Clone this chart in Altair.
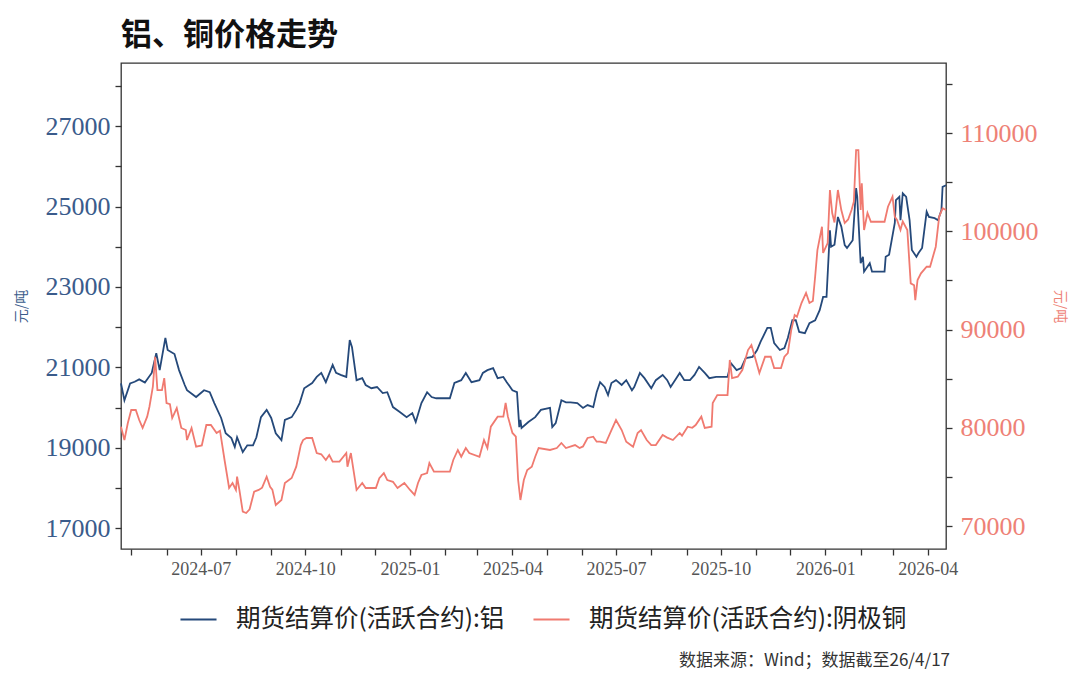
import altair as alt
import pandas as pd

AL_NAME = "期货结算价(活跃合约):铝"
CU_NAME = "期货结算价(活跃合约):阴极铜"
TITLE = "铝、铜价格走势"
FOOTER = "数据来源：Wind；数据截至26/4/17"
UNIT = "元/吨"

al_dates = ["2024-04-22","2024-04-25","2024-04-30","2024-05-04","2024-05-08","2024-05-13","2024-05-19","2024-05-23","2024-05-26","2024-05-31",
            "2024-06-02","2024-06-08","2024-06-12","2024-06-17","2024-06-19","2024-06-27","2024-07-04","2024-07-09","2024-07-13","2024-07-19",
            "2024-07-23","2024-07-28","2024-07-31","2024-08-02","2024-08-07","2024-08-11","2024-08-16","2024-08-19","2024-08-23","2024-08-28",
            "2024-09-01","2024-09-05","2024-09-10","2024-09-13","2024-09-19","2024-09-23","2024-09-26","2024-09-30","2024-10-07","2024-10-11",
            "2024-10-15","2024-10-19","2024-10-25","2024-10-28","2024-11-01","2024-11-06","2024-11-09","2024-11-11","2024-11-15","2024-11-20",
            "2024-11-23","2024-11-28","2024-12-03","2024-12-08","2024-12-12","2024-12-17","2024-12-23","2024-12-29","2025-01-03","2025-01-06",
            "2025-01-11","2025-01-16","2025-01-20","2025-01-24","2025-02-05","2025-02-09","2025-02-15","2025-02-19","2025-02-24","2025-03-03",
            "2025-03-06","2025-03-10","2025-03-15","2025-03-19","2025-03-24","2025-03-27","2025-04-01","2025-04-05","2025-04-07","2025-04-08",
            "2025-04-09","2025-04-15","2025-04-21","2025-04-26","2025-05-04","2025-05-06","2025-05-09","2025-05-14","2025-05-18","2025-05-22",
            "2025-05-28","2025-06-02","2025-06-06","2025-06-11","2025-06-14","2025-06-17","2025-06-21","2025-06-24","2025-06-27","2025-07-01",
            "2025-07-06","2025-07-10","2025-07-15","2025-07-17","2025-07-22","2025-07-26","2025-08-01","2025-08-05","2025-08-11","2025-08-15",
            "2025-08-18","2025-08-23","2025-08-26","2025-08-30","2025-09-04","2025-09-08","2025-09-12","2025-09-17","2025-09-21","2025-09-27",
            "2025-10-07","2025-10-10","2025-10-15","2025-10-19","2025-10-23","2025-10-29","2025-11-02","2025-11-05","2025-11-11","2025-11-14",
            "2025-11-17","2025-11-22","2025-11-26","2025-11-29","2025-12-03","2025-12-06","2025-12-09","2025-12-14","2025-12-18","2025-12-23",
            "2025-12-27","2025-12-30","2026-01-02","2026-01-05","2026-01-06","2026-01-09","2026-01-12","2026-01-15","2026-01-18","2026-01-20",
            "2026-01-25","2026-01-28","2026-01-29","2026-02-01","2026-02-03","2026-02-04","2026-02-09","2026-02-11","2026-02-22","2026-02-23",
            "2026-02-26","2026-03-03","2026-03-04","2026-03-07","2026-03-08","2026-03-10","2026-03-13","2026-03-16","2026-03-18","2026-03-22",
            "2026-03-24","2026-03-27","2026-03-31","2026-04-02","2026-04-07","2026-04-10","2026-04-13","2026-04-14","2026-04-17"]
al_values = [20600,20180,20600,20640,20700,20620,20860,21350,20930,21730,
             21430,21330,20930,20560,20430,20260,20430,20380,20110,19740,
             19360,19240,19020,19260,18890,19060,19060,19260,19760,19940,
             19740,19360,19190,19690,19760,19940,20110,20480,20610,20760,
             20860,20630,21060,20860,20810,20760,21680,21500,20680,20730,
             20560,20480,20510,20360,20380,20010,19890,19760,19860,19640,
             20110,20380,20260,20230,20230,20610,20680,20860,20630,20680,
             20860,20930,20980,20730,20760,20630,20430,20380,19510,19690,
             19490,19640,19760,19940,19990,19510,19610,20180,20130,20130,
             20110,19990,20060,20010,20380,20630,20510,20310,20610,20680,
             20560,20680,20430,20510,20860,20730,20480,20680,20810,20680,
             20510,20730,20860,20680,20680,20810,21010,20860,20730,20760,
             20760,21100,20930,20980,21230,21260,21430,21630,21980,21980,
             21600,21430,21480,21730,22170,22170,21880,21850,22100,22170,
             22420,22750,22750,24410,24000,24050,24740,24500,24040,23970,
             24160,25460,25240,23590,23750,23380,23590,23380,23380,23750,
             23800,24590,25160,25240,24660,25330,25240,24660,23920,23750,
             23850,23970,24870,24740,24710,24660,24910,25490,25530]

cu_dates = ["2024-04-22","2024-04-25","2024-04-28","2024-05-01","2024-05-05","2024-05-08","2024-05-11","2024-05-15","2024-05-17","2024-05-20",
            "2024-05-22","2024-05-24","2024-05-28","2024-05-30","2024-06-01","2024-06-04","2024-06-06","2024-06-10","2024-06-14","2024-06-18",
            "2024-06-19","2024-06-23","2024-06-27","2024-07-02","2024-07-06","2024-07-10","2024-07-15","2024-07-18","2024-07-22","2024-07-26",
            "2024-07-29","2024-08-01","2024-08-02","2024-08-04","2024-08-07","2024-08-10","2024-08-13","2024-08-17","2024-08-21","2024-08-24",
            "2024-08-28","2024-08-31","2024-09-02","2024-09-05","2024-09-10","2024-09-13","2024-09-19","2024-09-23","2024-09-27","2024-09-29",
            "2024-10-02","2024-10-07","2024-10-11","2024-10-15","2024-10-19","2024-10-22","2024-10-25","2024-10-31","2024-11-06","2024-11-07",
            "2024-11-10","2024-11-15","2024-11-20","2024-11-23","2024-12-02","2024-12-05","2024-12-09","2024-12-12","2024-12-17","2024-12-21",
            "2024-12-27","2025-01-01","2025-01-05","2025-01-08","2025-01-11","2025-01-16","2025-01-18","2025-01-22","2025-02-05","2025-02-08",
            "2025-02-12","2025-02-15","2025-02-19","2025-02-22","2025-03-03","2025-03-07","2025-03-10","2025-03-13","2025-03-19","2025-03-24",
            "2025-03-26","2025-03-28","2025-04-01","2025-04-04","2025-04-06","2025-04-08","2025-04-11","2025-04-14","2025-04-18","2025-04-21",
            "2025-04-24","2025-05-04","2025-05-10","2025-05-14","2025-05-18","2025-05-26","2025-05-30","2025-06-02","2025-06-06","2025-06-11",
            "2025-06-14","2025-06-17","2025-06-22","2025-06-27","2025-07-01","2025-07-06","2025-07-10","2025-07-16","2025-07-20","2025-07-23",
            "2025-07-28","2025-08-01","2025-08-05","2025-08-11","2025-08-15","2025-08-20","2025-08-26","2025-08-28","2025-09-02","2025-09-06",
            "2025-09-09","2025-09-14","2025-09-17","2025-09-23","2025-09-24","2025-09-28","2025-10-07","2025-10-09","2025-10-11","2025-10-16",
            "2025-10-20","2025-10-25","2025-10-28","2025-10-31","2025-11-04","2025-11-09","2025-11-14","2025-11-17","2025-11-23","2025-11-26",
            "2025-11-29","2025-12-02","2025-12-05","2025-12-07","2025-12-11","2025-12-15","2025-12-18","2025-12-21","2025-12-23","2025-12-25",
            "2025-12-29","2025-12-30","2026-01-03","2026-01-05","2026-01-07","2026-01-09","2026-01-12","2026-01-15","2026-01-18","2026-01-21",
            "2026-01-24","2026-01-26","2026-01-28","2026-01-30","2026-02-01","2026-02-02","2026-02-04","2026-02-07","2026-02-10","2026-02-22",
            "2026-02-25","2026-03-01","2026-03-03","2026-03-05","2026-03-08","2026-03-10","2026-03-14","2026-03-17","2026-03-20","2026-03-21",
            "2026-03-23","2026-03-26","2026-03-31","2026-04-03","2026-04-08","2026-04-11","2026-04-14","2026-04-17"]
cu_values = [80110,78750,80480,81810,81810,80790,79980,81130,82140,84180,
             87230,83840,83840,85060,82520,82400,80990,82010,79980,79770,
             78750,79980,78070,78200,80280,80280,79470,79700,76720,73870,
             74380,73670,75020,73700,71460,71320,71700,73490,73670,73900,
             75020,74000,73700,72140,72650,74380,74890,76040,78240,78750,
             78960,78960,77430,77300,76720,77230,76550,76550,77430,76040,
             77430,73670,74380,73870,73870,74860,75390,74680,74500,73870,
             74380,73670,73160,74380,75190,75390,76410,75530,75530,76720,
             77740,77050,77940,77430,77050,78750,77940,80110,81130,81130,
             82520,81130,79470,79090,74680,72650,74680,75700,76040,77050,
             77940,77740,77940,78450,77940,78240,77940,78100,78960,79090,
             78580,78580,78450,79770,80790,79770,78580,78070,79470,79770,
             78750,78240,78240,79260,79000,78750,79470,79200,80110,80000,
             80280,81130,79980,80110,82520,83330,83330,86900,85060,85200,
             85880,87910,88420,87230,85570,87230,87230,86080,86080,87230,
             87610,89950,91480,91300,92700,93720,92700,92900,95370,98090,
             100460,97790,98800,104200,101860,100900,104200,102160,100840,101200,
             102160,103010,108270,108270,102160,104880,100130,101860,100970,100970,
             102500,103520,101480,101150,100130,101000,100130,94700,94500,93000,
             95040,95720,96390,96390,98430,101480,102340,102160]

month_ticks = ["2024-05","2024-06","2024-07","2024-08","2024-09","2024-10","2024-11","2024-12",
               "2025-01","2025-02","2025-03","2025-04","2025-05","2025-06","2025-07","2025-08",
               "2025-09","2025-10","2025-11","2025-12","2026-01","2026-02","2026-03","2026-04"]
left_ticks = [17000,18000,19000,20000,21000,22000,23000,24000,25000,26000,27000,28000]
right_ticks = [70000,75000,80000,85000,90000,95000,100000,105000,110000,115000]

AL_COLOR = "#25497a"
CU_COLOR = "#f07a70"
AL_LABEL = "#3a5b8b"
CU_LABEL = "#ee8176"

df = pd.concat([
    pd.DataFrame({"date": al_dates, "value": al_values, "series": AL_NAME}),
    pd.DataFrame({"date": cu_dates, "value": cu_values, "series": CU_NAME}),
], ignore_index=True)

def dt(s):
    y, m = s.split("-")[:2]
    return alt.DateTime(year=int(y), month=int(m), date=1, utc=True)

x_enc = alt.X(
    "date:T",
    scale=alt.Scale(type="utc", domain=[alt.DateTime(year=2024, month=4, date=22, utc=True),
                                        alt.DateTime(year=2026, month=4, date=17, utc=True)], nice=False),
    axis=alt.Axis(values=[dt(m) for m in month_ticks], title=None,
                  labelExpr="utcmonth(datum.value) % 3 == 0 ? utcFormat(datum.value, '%Y-%m') : ''",
                  labelFont="Liberation Serif", labelFontSize=18, labelColor="#555555",
                  labelPadding=5, labelFlush=False, labelOverlap=False),
)

color_enc = alt.Color(
    "series:N",
    scale=alt.Scale(domain=[AL_NAME, CU_NAME], range=[AL_COLOR, CU_COLOR]),
    legend=alt.Legend(title=None, orient="none", legendX=58, legendY=537, direction="horizontal",
                      columns=2, symbolType="stroke", symbolSize=1300, symbolStrokeWidth=2,
                      labelFont="Noto Sans CJK SC", labelFontSize=24.5, labelColor="#222222",
                      labelLimit=600, labelOffset=18, columnPadding=24),
)

base = alt.Chart(df)

al_line = base.transform_filter(alt.datum.series == AL_NAME).mark_line(strokeWidth=1.8).encode(
    x=x_enc,
    y=alt.Y("value:Q", scale=alt.Scale(domain=[16480, 28570], nice=False, zero=False),
            axis=alt.Axis(orient="left", values=left_ticks, title=UNIT,
                          labelExpr="datum.value % 2000 == 1000 ? format(datum.value, 'd') : ''",
                          labelFont="Liberation Serif", labelFontSize=26, labelColor=AL_LABEL,
                          labelPadding=5, titleFont="Noto Sans CJK SC", titleFontSize=14,
                          titleFontWeight="normal", titleColor=AL_LABEL, titlePadding=17,
                          labelOverlap=False)),
    color=color_enc,
)

cu_line = base.transform_filter(alt.datum.series == CU_NAME).mark_line(strokeWidth=1.8).encode(
    x=x_enc,
    y=alt.Y("value:Q", scale=alt.Scale(domain=[67660, 117130], nice=False, zero=False),
            axis=alt.Axis(orient="right", values=right_ticks, title=UNIT,
                          labelExpr="datum.value % 10000 == 0 ? format(datum.value, 'd') : ''",
                          labelFont="Liberation Serif", labelFontSize=26, labelColor=CU_LABEL,
                          labelPadding=8, titleFont="Noto Sans CJK SC", titleFontSize=14,
                          titleFontWeight="normal", titleColor=CU_LABEL, titlePadding=14,
                          labelOverlap=False)),
    color=color_enc,
)

footer = alt.Chart(pd.DataFrame({"t": [FOOTER]})).mark_text(
    font="Noto Sans CJK SC", fontSize=17, color="#333333", align="right", baseline="middle"
).encode(text="t:N", x=alt.value(829), y=alt.value(598))

chart = alt.layer(al_line, cu_line, footer).resolve_scale(y="independent").properties(
    width=825, height=486,
    autosize=alt.AutoSizeParams(type="none"),
    padding={"left": 113, "top": 55, "right": 126, "bottom": 130},
    title=alt.TitleParams(TITLE, anchor="start", frame="group", font="Noto Sans CJK SC",
                          fontSize=31, fontWeight="bold", color="#111111", offset=-20,
                          baseline="bottom"),
).configure_view(stroke="#333333", strokeWidth=1.3).configure_axis(
    grid=False, domain=False, tickColor="#333333", tickWidth=1.3, tickSize=6
)

chart.save("out.html", embed_options={"renderer": "svg", "actions": False})
